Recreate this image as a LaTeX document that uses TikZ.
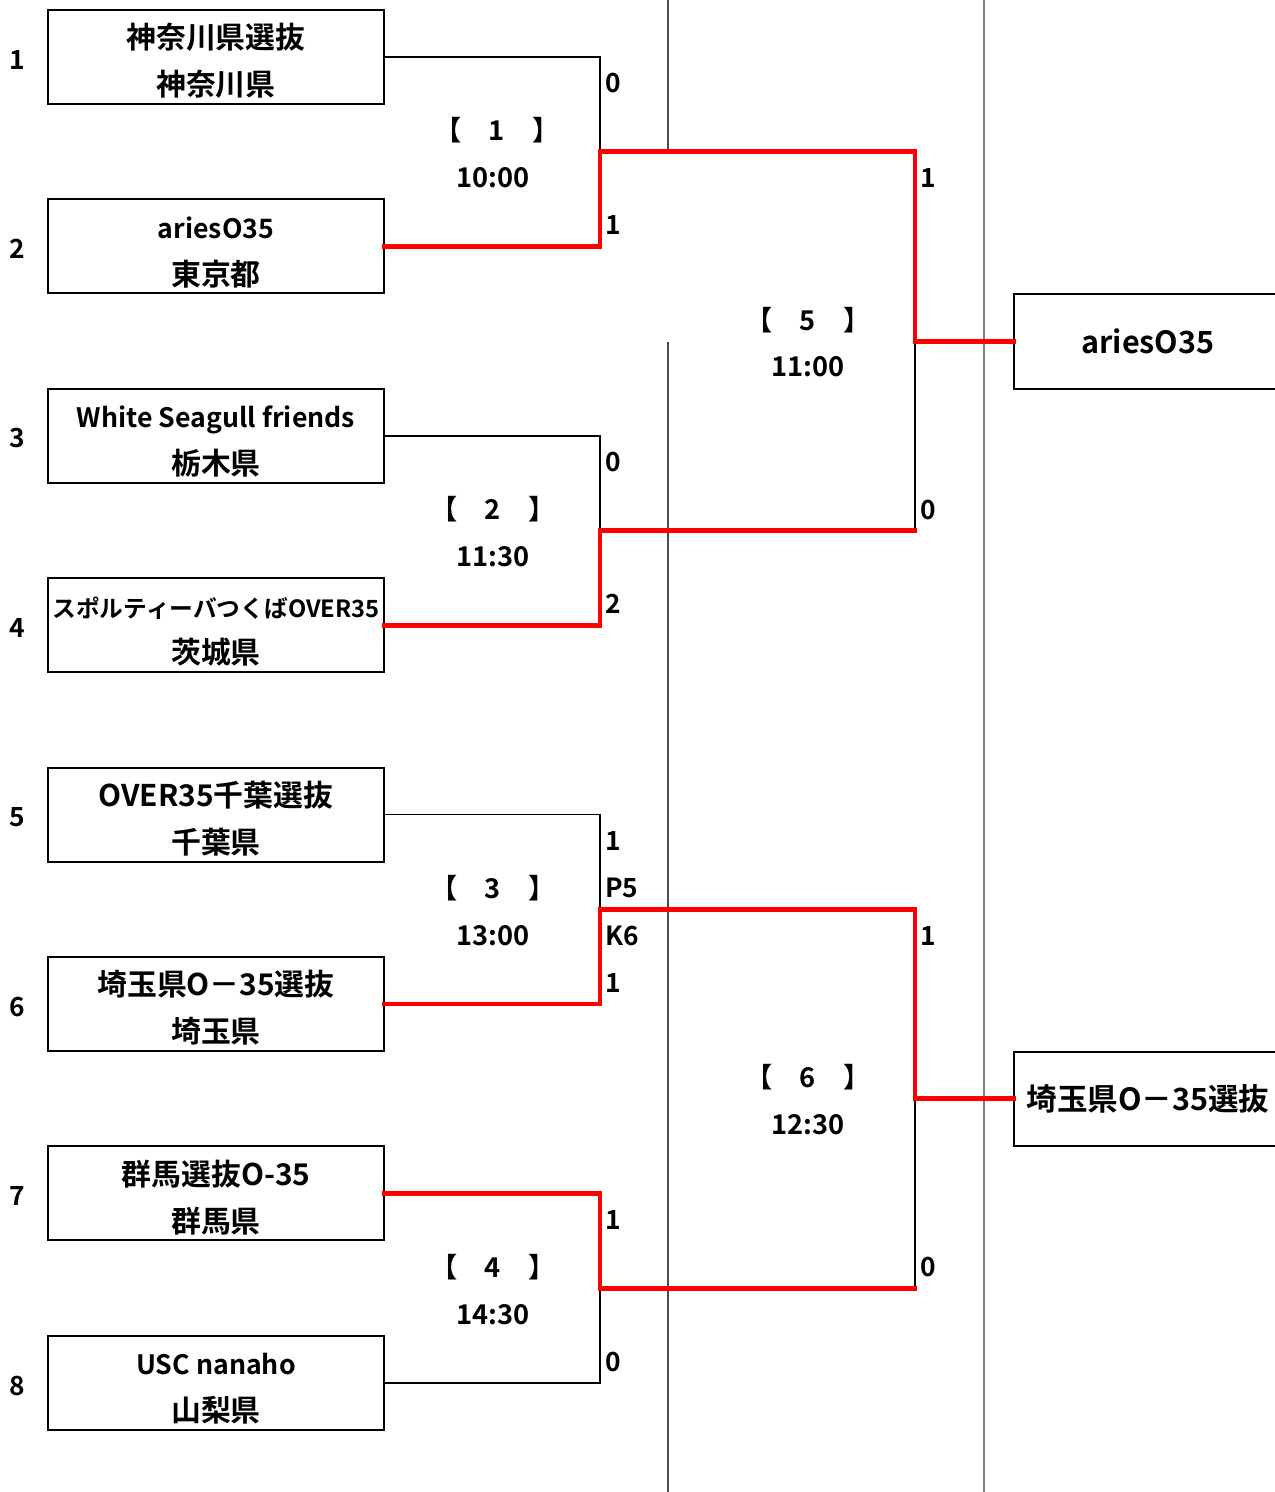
\documentclass[tikz,border=0pt]{standalone}
\usepackage{fontspec}
\setmainfont{Noto Sans CJK JP}[BoldFont={Noto Sans CJK JP Bold}]
\newcommand{\toprule}{\rule{0pt}{19pt}}
\newcommand{\lat}{\fontsize{15.2}{26.6}\selectfont}
\begin{document}
\begin{tikzpicture}[x=0.02cm,y=-0.02cm,
  team/.style={draw, line width=1.1pt, minimum width=6.72cm, minimum height=1.88cm, inner sep=0pt, align=center, font=\bfseries\fontsize{17}{26.6}\selectfont},
  winbox/.style={minimum width=5.36cm, minimum height=1.88cm, inner sep=0pt, font=\bfseries\fontsize{17.4}{20}\selectfont},
  boxline/.style={line width=1.1pt, black},
  lose/.style={line width=0.8pt, black},
  win/.style={line width=2.8pt, red, line cap=rect},
  score/.style={anchor=west, inner sep=0pt, font=\bfseries\fontsize{15}{18}\selectfont},
  seed/.style={inner sep=0pt, font=\bfseries\fontsize{15}{18}\selectfont},
  matchlbl/.style={inner sep=0pt, font=\bfseries\fontsize{15.5}{18}\selectfont},
  colA/.style={line width=0.6pt, black!70},
  colB/.style={line width=0.9pt, black!50}]
\useasboundingbox (0,0) rectangle (1275,1492);
% column guide lines
\draw[colA] (668,0) -- (668,151.7);
\draw[colA] (668,342) -- (668,1492);
\draw[colB] (984,0) -- (984,1492);
% teams
\node[team] (t1) at (216,57.0) {\toprule 神奈川県選抜\\神奈川県};
\node[team] (t2) at (216,246.4) {\toprule{\lat ariesO35}\\東京都};
\node[team] (t3) at (216,435.8) {\toprule{\lat White Seagull friends}\\栃木県};
\node[team] (t4) at (216,625.2) {\toprule{\fontsize{13.5}{16}\selectfont スポルティーバつくばOVER35}\\茨城県};
\node[team] (t5) at (216,814.6) {\toprule OVER35千葉選抜\\千葉県};
\node[team] (t6) at (216,1004.0) {\toprule 埼玉県O－35選抜\\埼玉県};
\node[team] (t7) at (216,1193.4) {\toprule 群馬選抜O-35\\群馬県};
\node[team] (t8) at (216,1382.8) {\toprule{\lat USC nanaho}\\山梨県};
% seeds
\node[seed] (n1) at (17,60) {1};
\node[seed] (n2) at (17,249) {2};
\node[seed] (n3) at (17,438) {3};
\node[seed] (n4) at (17,628) {4};
\node[seed] (n5) at (17,817) {5};
\node[seed] (n6) at (17,1007) {6};
\node[seed] (n7) at (17,1196) {7};
\node[seed] (n8) at (17,1386) {8};
% junctions
\coordinate (m1) at (600,151.7);
\coordinate (m2) at (600,530.5);
\coordinate (m3) at (600,909.3);
\coordinate (m4) at (600,1288.1);
\coordinate (s1) at (915,151.7);
\coordinate (s2) at (915,530.5);
\coordinate (s3) at (915,909.3);
\coordinate (s4) at (915,1288.1);
\coordinate (j1) at (915,341.1);
\coordinate (j2) at (915,1098.7);
\coordinate (edge) at (1275,0);
% winner boxes
\node[winbox] (w1) at (1148,341.5) {\raisebox{-1.5pt}{ariesO35}};
\node[winbox] (w2) at (1148,1099) {\raisebox{-0.6pt}{埼玉県O－35選抜}};
\draw[boxline] (w1.north west -| edge) -- (w1.north west) -- (w1.south west) -- (w1.south west -| edge);
\draw[boxline] (w2.north west -| edge) -- (w2.north west) -- (w2.south west) -- (w2.south west -| edge);
% losing connectors
\draw[lose] (t1.east) -| (m1);
\draw[lose] (t3.east) -| (m2);
\draw[lose] (t5.east) -| (m3);
\draw[lose] (t8.east) -| (m4);
\draw[lose] (s2) -- (j1);
\draw[lose] (s4) -- (j2);
% winning connectors
\draw[win] (t2.east) -| (m1) -- (s1) |- (j1) -- (j1 -| w1.west);
\draw[win] (t4.east) -| (m2) -- (s2);
\draw[win] (t6.east) -| (m3) -- (s3) |- (j2) -- (j2 -| w2.west);
\draw[win] (t7.east) -| (m4) -- (s4);
% scores
\node[score] (a1) at (605,83) {0};
\node[score] (a2) at (605,225) {1};
\node[score] (a3) at (605,462) {0};
\node[score] (a4) at (605,604) {2};
\node[score] (a5) at (605,841) {1};
\node[score] (a5p) at (605,888) {P5};
\node[score] (a6k) at (605,936) {K6};
\node[score] (a6) at (605,983) {1};
\node[score] (a7) at (605,1220) {1};
\node[score] (a8) at (605,1362) {0};
\node[score] (b1) at (920,178) {1};
\node[score] (b2) at (920,510) {0};
\node[score] (b3) at (920,936) {1};
\node[score] (b4) at (920,1267) {0};
% match labels
\node[matchlbl] (g1) at (497,130) {【\quad 1\quad 】};
\node[matchlbl] (h1) at (493,178) {10:00};
\node[matchlbl] (g2) at (493,509) {【\quad 2\quad 】};
\node[matchlbl] (h2) at (493,557) {11:30};
\node[matchlbl] (g3) at (493,888) {【\quad 3\quad 】};
\node[matchlbl] (h3) at (493,936) {13:00};
\node[matchlbl] (g4) at (493,1267) {【\quad 4\quad 】};
\node[matchlbl] (h4) at (493,1315) {14:30};
\node[matchlbl] (g5) at (808,320) {【\quad 5\quad 】};
\node[matchlbl] (h5) at (808,367) {11:00};
\node[matchlbl] (g6) at (808,1077) {【\quad 6\quad 】};
\node[matchlbl] (h6) at (808,1125) {12:30};
\end{tikzpicture}
\end{document}
